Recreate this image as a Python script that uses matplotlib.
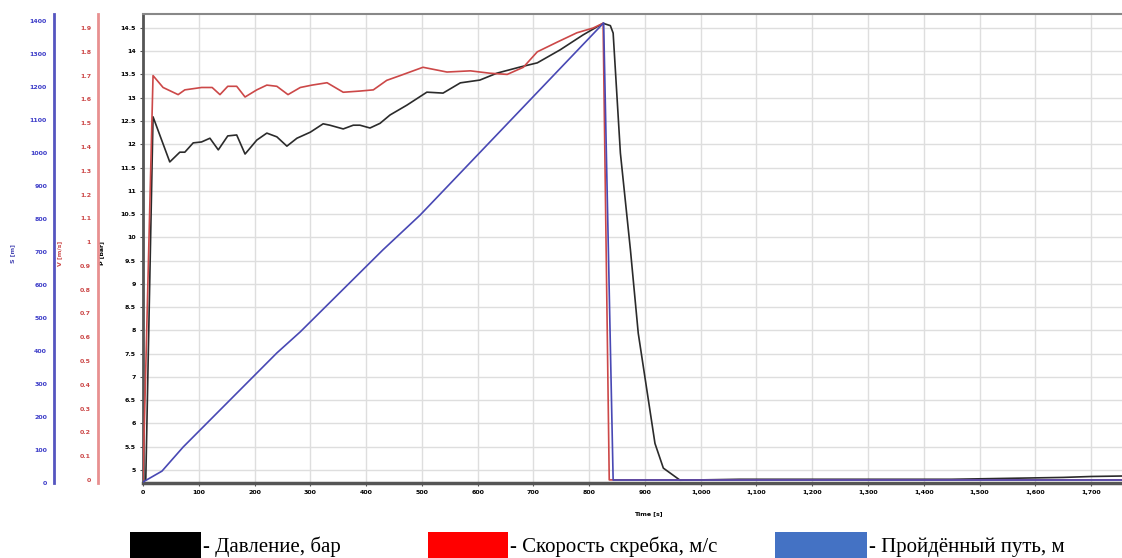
import matplotlib
matplotlib.use("Agg")
import matplotlib.pyplot as plt
from matplotlib.patches import Rectangle

# pressure, bar (black, inner axis)
p_time = [5, 18, 48, 66, 75, 90, 105, 120, 135, 152, 168, 183, 204, 222, 240, 258, 276,
          300, 323, 335, 359, 377, 389, 407, 425, 443, 473, 509, 538, 569, 604, 635, 676,
          707, 748, 789, 825, 838, 843, 856, 874, 888, 918, 933, 963, 1070, 1450, 1550,
          1650, 1700, 1755]
p_bar = [4.8, 12.59, 11.62, 11.83, 11.83, 12.03, 12.05, 12.13, 11.88, 12.18, 12.2, 11.79,
         12.09, 12.24, 12.16, 11.96, 12.13, 12.26, 12.44, 12.41, 12.33, 12.41, 12.41, 12.35,
         12.45, 12.63, 12.84, 13.12, 13.10, 13.32, 13.38, 13.53, 13.66, 13.75, 14.03, 14.35,
         14.6, 14.55, 14.39, 11.81, 9.73, 7.94, 5.57, 5.04, 4.78, 4.80, 4.80, 4.82, 4.84,
         4.86, 4.87]

# scraper speed, m/s (red axis)
v_time = [0, 18, 36, 63, 75, 105, 124, 138, 152, 168, 183, 204, 222, 240, 260, 282, 303,
          330, 359, 389, 413, 437, 461, 502, 545, 587, 622, 653, 682, 707, 742, 778, 807,
          825, 836, 1755]
v_ms = [0.0, 1.70, 1.65, 1.62, 1.64, 1.65, 1.65, 1.62, 1.655, 1.655, 1.61, 1.64, 1.66,
        1.655, 1.62, 1.65, 1.66, 1.67, 1.63, 1.635, 1.64, 1.68, 1.70, 1.735, 1.715, 1.72,
        1.71, 1.705, 1.735, 1.80, 1.84, 1.88, 1.90, 1.92, 0.0, 0.0]

# distance travelled, m (blue axis)
s_time = [0, 34, 72, 240, 282, 430, 497, 826, 843, 1755]
s_m = [3, 36, 109, 394, 458, 706, 812, 1394, 9, 9]

x_ticks = list(range(0, 1800, 100))
p_ticks = [5 + 0.5 * i for i in range(20)]
v_ticks = [round(0.1 * i, 1) for i in range(20)]
s_ticks = list(range(0, 1500, 100))

legend_labels = ["- Давление, бар", "- Скорость скребка, м/с", "- Пройдённый путь, м"]
legend_colors = ["#000000", "#ff0000", "#4472c4"]

BLACK = "#2b2b2b"
RED = "#cc4848"
BLUE = "#4848b4"

fig = plt.figure(figsize=(11.22, 5.58), dpi=100)
host = fig.add_axes([143 / 1122, 75 / 558, 1010 / 1122, 469 / 558])
red_ax = host.twinx()
blue_ax = host.twinx()

host.plot(p_time, p_bar, color=BLACK, lw=1.2, zorder=3)
red_ax.plot(v_time, v_ms, color=RED, lw=1.2)
blue_ax.plot(s_time, s_m, color=BLUE, lw=1.2)

host.set_xlim(0, 1811)
host.set_ylim(4.72, 14.80)
red_ax.set_ylim(-0.013, 1.959)
blue_ax.set_ylim(0, 1421)

host.set_xticks(x_ticks)
host.set_xticklabels([f"{t:,}" for t in x_ticks])
host.set_yticks(p_ticks)
host.set_yticklabels([f"{p:g}" for p in p_ticks])
red_ax.set_yticks(v_ticks)
red_ax.set_yticklabels([f"{v:g}" for v in v_ticks])
blue_ax.set_yticks(s_ticks)

host.grid(True, color="#dedede", lw=1.0)
host.set_axisbelow(True)

host.tick_params(axis="both", labelsize=4.5, length=2, color="#555555", pad=3)
for lab in host.get_xticklabels() + host.get_yticklabels():
    lab.set_fontweight("bold")

host.spines["right"].set_visible(False)
host.spines["left"].set_color("#555555")
host.spines["left"].set_linewidth(2)
host.spines["bottom"].set_color("#555555")
host.spines["bottom"].set_linewidth(2.5)
host.spines["top"].set_color("#888888")
host.spines["top"].set_linewidth(1.5)

for ax, color, tick_color, offset in [(red_ax, "#e89090", RED, 45), (blue_ax, "#5555c0", "#3c3cc8", 89)]:
    for side in ["right", "top", "bottom"]:
        ax.spines[side].set_visible(False)
    ax.spines["left"].set_visible(True)
    ax.spines["left"].set_position(("outward", offset * 0.72))
    ax.spines["left"].set_color(color)
    ax.spines["left"].set_linewidth(2)
    ax.yaxis.set_ticks_position("left")
    ax.yaxis.set_label_position("left")
    ax.tick_params(axis="y", labelsize=4.5, length=0, pad=5, labelcolor=tick_color)
    for lab in ax.get_yticklabels():
        lab.set_fontweight("bold")

host.set_xlabel("Time [s]", fontsize=4.5, fontweight="bold")
host.xaxis.set_label_coords(0.5, -0.06)
host.set_ylabel("P [bar]", fontsize=4.5, fontweight="bold")
host.yaxis.set_label_coords(-0.0386, 0.49)
red_ax.set_ylabel("V [m/s]", fontsize=4.5, fontweight="bold", color=RED)
red_ax.yaxis.set_label_coords(-0.0802, 0.49)
blue_ax.set_ylabel("S [m]", fontsize=4.5, fontweight="bold", color=BLUE)
blue_ax.yaxis.set_label_coords(-0.1267, 0.49)

# legend boxes at the bottom, as in the source figure
legend_boxes = [(130, 71), (428, 80), (775, 92)]
for (x0, w), color, label in zip(legend_boxes, legend_colors, legend_labels):
    fig.patches.append(Rectangle((x0 / 1122, 0), w / 1122, 26 / 558, transform=fig.transFigure,
                                 facecolor=color, edgecolor="none"))
    fig.text((x0 + w + 2) / 1122, 11 / 558, label, fontsize=15, family="Liberation Serif",
             va="center", ha="left")

fig.savefig("out.png", dpi=100)
